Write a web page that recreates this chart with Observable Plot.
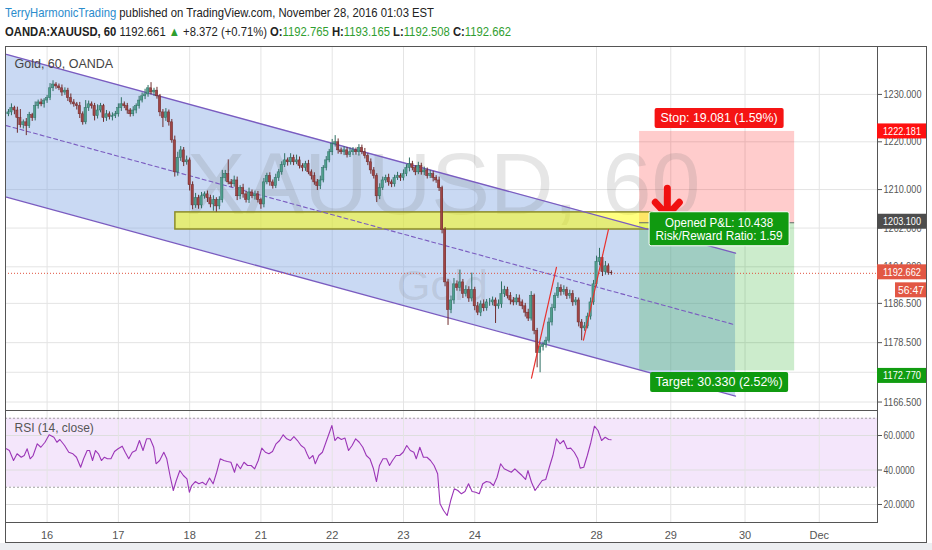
<!DOCTYPE html>
<html><head><meta charset="utf-8">
<script src="https://cdn.jsdelivr.net/npm/d3@7"></script>
<script src="https://cdn.jsdelivr.net/npm/@observablehq/plot@0.6"></script>
<style>
html,body{margin:0;padding:0;background:#fff;width:932px;height:550px;overflow:hidden;position:relative;}
svg{display:block;}
#hdr{position:relative;height:46px;font-family:"Liberation Sans",Arial,sans-serif;font-size:13px;color:#222;}
.ln{position:absolute;left:5px;white-space:nowrap;display:inline-block;transform-origin:0 0;}
#l1{top:5px;}
#l2{top:24px;}
.g{color:#2f9e2f;}
.u{color:#2b8ccc;}
#outer{position:absolute;left:5px;top:46px;width:922px;height:497px;border:1px solid #555;box-sizing:border-box;pointer-events:none;}
#foot{position:absolute;left:0;top:543px;width:932px;height:7px;background:#eceef1;}
</style>
</head><body>
<div id="hdr">
  <div class="ln" id="l1"><span class="u">TerryHarmonicTrading</span> published on TradingView.com, November 28, 2016 01:03 EST</div>
  <div class="ln" id="l2"><b>OANDA:XAUUSD, 60</b> 1192.661 <span class="g">▲</span> +8.372 (+0.71%) <b>O:</b><span class="g">1192.765</span> <b>H:</b><span class="g">1193.165</span> <b>L:</b><span class="g">1192.508</span> <b>C:</b><span class="g">1192.662</span></div>
</div>
<div id="chart"></div>
<div id="outer"></div>
<div id="foot"></div>
<script>
// ---------- data ----------
const firstOpen = 1225.8;
const closes = [
 1226.2,1227.1,1226.6,1225.0,1223.5,1224.1,1223.3,1225.6,1225.0,1227.5,
 1228.3,1227.9,1228.7,1229.2,1231.3,1232.1,1231.7,1231.3,1230.4,1230.8,
 1229.2,1228.3,1227.9,1227.5,1225.8,1224.1,1227.1,1227.9,1227.5,1225.4,
 1226.6,1227.5,1225.0,1225.8,1225.2,1225.4,1225.8,1227.1,1227.9,1227.5,
 1226.6,1225.8,1226.6,1227.5,1228.7,1229.6,1230.0,1231.3,1230.4,1230.8,
 1229.6,1226.2,1225.0,1226.2,1224.1,1220.3,1213.6,1216.6,1218.2,1215.7,
 1216.1,1210.9,1206.7,1208.2,1206.7,1208.6,1209.0,1208.2,1206.9,1207.8,
 1206.5,1207.8,1212.4,1213.2,1211.5,1211.1,1211.9,1208.6,1210.3,1209.0,
 1207.8,1209.4,1208.6,1209.0,1207.8,1206.9,1211.5,1212.8,1211.5,1210.7,
 1212.4,1213.6,1215.1,1216.1,1215.7,1216.6,1215.7,1216.1,1214.9,1214.5,
 1215.3,1213.6,1212.8,1211.5,1210.7,1211.9,1214.5,1216.1,1217.8,1219.5,
 1219.9,1218.2,1217.8,1218.2,1217.2,1217.8,1218.2,1217.8,1218.7,1217.8,
 1217.0,1215.7,1214.0,1212.8,1208.6,1210.3,1211.9,1212.4,1211.5,1211.1,
 1212.4,1212.8,1212.4,1213.2,1214.5,1215.3,1214.5,1213.6,1214.9,1213.6,
 1214.0,1212.8,1213.2,1212.4,1211.9,1210.3,1201.6,1190.8,1185.1,1187.1,
 1190.4,1189.6,1190.8,1188.4,1189.2,1187.5,1189.2,1185.9,1184.6,1186.3,
 1185.5,1186.7,1186.7,1187.1,1185.9,1186.3,1188.4,1189.2,1188.0,1187.1,
 1186.7,1187.5,1186.7,1185.9,1184.6,1183.4,1188.0,1180.9,1176.4,1177.6,
 1178.0,1178.9,1182.6,1185.5,1188.0,1189.6,1188.8,1189.2,1188.0,1188.4,
 1186.7,1187.1,1182.6,1181.4,1181.8,1183.8,1186.7,1190.4,1195.0,1195.8,
 1192.9,1194.1,1192.77,1192.66];
const wickHi = [
 0.6,0.9,0.4,0.7,1.8,0.5,0.8,0.6,0.4,0.9, 0.5,0.7,0.4,0.6,1.0,0.8,0.4,0.5,0.7,0.6,
 0.5,0.9,0.6,0.4,0.8,0.5,1.6,0.7,0.5,0.6, 1.2,0.6,0.4,0.8,0.5,0.7,0.6,0.9,1.4,0.5,
 0.6,0.4,0.8,0.5,0.9,0.7,1.1,0.6,1.2,0.5, 0.7,0.4,0.6,0.8,0.5,0.6,0.9,1.2,0.8,0.6,
 0.9,0.5,0.7,1.0,0.6,0.8,0.5,0.7,0.6,0.9, 0.5,0.7,1.6,0.8,3.0,0.6,0.9,0.7,0.5,0.8,
 0.6,0.9,0.5,0.7,0.6,0.4,0.8,0.6,0.7,0.5, 0.8,0.6,0.7,1.4,0.5,0.9,0.6,1.1,0.7,0.5,
 0.6,0.8,0.5,0.7,0.6,0.9,0.5,0.8,0.6,1.0, 1.4,0.7,0.5,0.8,0.6,0.9,0.6,0.5,0.7,0.6,
 0.8,0.5,0.7,0.6,0.5,0.9,0.7,0.6,0.8,0.5, 0.6,0.8,0.5,0.9,0.7,1.3,0.6,0.5,0.8,0.6,
 0.7,0.5,0.8,0.6,0.5,0.7,0.4,0.5,0.6,0.9, 1.2,0.7,2.5,0.6,0.9,0.7,3.5,0.6,0.8,0.7,
 0.9,0.6,0.8,0.7,0.5,0.9,2.5,0.8,0.6,0.7, 0.6,0.8,0.7,0.5,0.6,0.7,0.9,0.4,0.5,0.8,
 0.6,0.7,0.9,0.8,0.6,1.1,0.7,0.9,0.6,0.8, 0.7,0.6,0.5,0.6,0.8,0.7,0.9,0.8,1.2,2.0,
 0.6,1.0,0.5,0.4];
const wickLo = [
 0.5,0.7,0.9,3.2,0.6,0.8,2.0,0.5,0.7,0.6, 0.6,0.5,0.8,0.6,0.5,0.7,0.6,0.5,0.8,0.6,
 0.7,0.5,0.6,0.8,0.9,0.6,0.5,0.7,0.6,1.0, 0.6,0.5,0.9,0.7,0.6,0.8,0.5,0.6,0.7,0.5,
 0.8,0.6,0.5,0.7,0.6,0.5,0.7,0.6,0.5,0.8, 0.6,0.9,2.0,0.7,0.8,0.6,1.0,0.8,0.7,0.9,
 0.6,1.2,0.9,0.6,0.8,0.7,0.6,0.9,0.7,1.4, 1.2,0.7,0.6,0.8,0.5,0.7,0.6,0.9,0.7,0.8,
 0.6,0.7,0.5,0.8,0.6,1.0,0.7,0.5,0.8,0.6, 0.5,0.7,0.6,0.5,0.8,0.6,0.7,0.5,0.6,0.8,
 0.7,0.5,0.8,0.6,0.9,0.7,0.5,0.6,0.5,0.7, 0.6,0.8,0.5,0.7,0.6,0.5,0.7,0.6,0.8,0.5,
 0.6,0.7,0.8,0.6,1.3,0.7,0.5,0.6,0.8,0.7, 0.6,0.5,0.7,0.6,0.5,0.8,0.6,0.7,0.5,0.6,
 0.7,0.6,0.5,0.8,0.6,0.7,0.8,0.9,3.1,0.7, 0.8,0.6,0.7,0.9,0.6,0.8,0.7,0.9,0.6,0.8,
 0.7,0.6,0.8,0.7,3.5,0.6,0.8,0.7,0.6,0.9, 0.7,0.6,0.8,0.7,0.9,0.6,0.5,0.8,3.0,4.0,
 0.8,0.6,0.5,0.7,0.6,0.5,0.8,0.6,0.7,0.6, 0.8,0.7,0.9,2.5,0.6,0.5,0.7,0.6,0.5,0.8,
 0.9,0.6,0.5,0.4];
const rsiBar = [
 0.3,1.3,2.7,3.9,5.3,6.3,7.3,8.3,9.3,10.7, 11.9,13.3,14.7,16.3,17.3,18.3,19.9,21.3,22.7,23.9,
 25.3,26.3,27.5,28.3,29.3,30.3,31.3,32.3,33.3,34.3, 35.5,36.7,37.9,39.3,40.3,41.5,42.7,43.9,45.1,46.3,
 47.5,48.7,49.9,50.7,51.9,53.3,54.3,55.5,56.5,57.5, 58.7,59.9,61.1,61.9,62.7,63.9,65.1,66.3,67.5,68.7,
 69.9,71.1,72.3,73.5,74.7,75.9,77.1,77.9,79.1,80.3, 81.5,82.7,83.9,85.1,86.3,87.5,88.7,89.9,91.1,92.3,
 93.5,94.7,95.9,97.1,98.3,99.5,100.7,101.5,102.3,103.5, 104.3,105.5,106.7,107.9,109.1,109.9,110.9,111.9,113.1,114.3,
 115.5,116.7,117.9,119.1,120.3,121.5,122.7,123.9,124.9,125.9, 127.1,128.3,129.3,130.3,131.5,132.7,133.9,135.1,136.3,137.5,
 138.3,139.5,140.7,141.9,143.1,144.3,145.5,146.3,147.5,148.7, 149.9,151.1,152.3,153.5,154.7,155.9,157.1,158.3,159.5,160.7,
 161.9,163.1,164.3,165.5,166.7,167.9,169.1,170.3,171.5,172.7, 173.9,175.1,175.9,177.1,178.3,179.5,180.7,181.9,183.1,184.3,
 185.5,186.7,187.9,189.1,190.3,191.5,192.7,193.5,194.7,195.9, 197.1,198.3,199.5,200.7,201.9,203.1,203.9];
const rsiVal = [
 52.3,51.3,45.5,49.4,47.4,48.4,52.3,46.5,48.4,55.2, 53.2,56.1,60.4,59,56.1,57.7,54.2,50.3,49.4,47.4,
 41.6,46.5,51.3,51.3,45.5,51.3,49.4,45.5,47.4,46.5, 46.5,50.7,52.3,53.8,50.3,46.5,50.3,51.3,57.1,51.3,
 58.1,58.1,53.2,43.6,45.5,50.3,46.5,35.8,28.1,33.9, 39.7,36.8,34.9,27.1,31,33.3,32,32.9,31.4,35.3,
 32,38.7,46.5,45.5,44.9,44.5,38.7,43.6,40.7,44.5, 42.6,42.6,40.7,45.5,52.7,50.3,49.4,50.7,55.2,57.1,
 60.4,58.1,57.1,59.4,57.1,54.2,52.7,49.4,46.5,48.4, 43.6,48.4,50.3,56.1,61.9,65.8,57.1,59,57.7,58.5,
 51.3,54.2,58.1,56.1,53.2,48.4,46.5,40.7,33.3,42.6, 46.5,46.5,42.6,45.5,48.4,48.4,50.3,54.2,51.3,50.3,
 46.5,53.2,47.4,47.4,45.5,42.6,37.8,20.4,16.5,13.6, 22.3,29.1,28.1,26.2,27.5,32,27.5,27.1,26.2,32,
 33.3,32.9,31,35.8,43.6,40.7,39.7,38.7,40.7,38.7, 36.8,34.5,39.7,32.9,28.1,31,33.9,34.5,41.6,48.4,
 58.1,55.2,57.1,52.3,52.7,50.3,46.5,41.1,41.6,48.4, 56.1,65.4,62.9,57.1,59,57.7,57.5];
const dayBars = [14,38,62,86,110,134,158,199,224,249,274];
const dayLabels = ["16","17","18","21","22","23","24","28","29","30","Dec"];
const priceTicks = [1230,1220,1210,1202,1194,1186.5,1178.5,1166.5];
const priceGrid = [1230,1220,1210,1202,1194,1186.5,1178.5,1172.5,1166.5];
const rsiTicks = [60,40,20];
const rsiBands = [30,70];
const channel = [
  {bar:0.3, top:1238.5, mid:1223.4, bottom:1208.4},
  {bar:245.8, top:1196.8, mid:1182.1, bottom:1167.7}];
const zone = {bar1:57.2, bar2:218, low:1201.7, high:1205.25};
const position = {bar1:213.5, bar2:265.7, stop:1222.181, entry:1203.1, target:1172.77};
const trend1 = [{bar:177.1, p:1171.3},{bar:185.5, p:1193.9}];
const trend2 = [{bar:194.6, p:1179.0},{bar:203.0, p:1201.7}];
const lastPrice = 1192.662;
const arrowBar = 223;
const axisTags = [
  {price:1222.181, text:"1222.181", fill:"#ff1010", dy:0},
  {price:1203.1, text:"1203.100", fill:"#4d4d4d", dy:-1},
  {price:1192.662, text:"1192.662", fill:"#e25744", dy:-1},
  {price:1172.77, text:"1172.770", fill:"#119c11", dy:5}];
const timerText = "56:47";
const stopText = "Stop: 19.081 (1.59%)";
const pnlLines = ["Opened P&L: 10.438", "Risk/Reward Ratio: 1.59"];
const targetText = "Target: 30.330 (2.52%)";

// ---------- build ----------
const FONT = '"Liberation Sans", Arial, sans-serif';
const xDomain = [0, 293.6];
const labelMap = new Map(dayBars.map((b,i)=>[b, dayLabels[i]]));
const candles = closes.map((c,i)=>{
  const o = i===0 ? firstOpen : closes[i-1];
  return {bar:i+1, o, c, h:Math.max(o,c)+wickHi[i], l:Math.min(o,c)-wickLo[i], up:c>=o};
});
const rsiData = rsiBar.map((b,i)=>({bar:b, v:rsiVal[i]}));
const UP="#4f9f8e", UPW="#2f6f63", DN="#a04444", DNW="#6f2c2c";

const main = Plot.plot({
  width:932, height:364, marginLeft:5, marginRight:55, marginTop:0, marginBottom:0,
  style:{fontFamily:FONT, fontSize:"11px", color:"#555", background:"transparent", overflow:"visible"},
  x:{domain:xDomain, axis:null},
  y:{type:"log", domain:[1164.8,1240.2], axis:"right", ticks:priceTicks, tickFormat:d=>d.toFixed(3), tickSize:4, tickPadding:2, label:null},
  marks:[
    Plot.ruleY(priceGrid,{stroke:"#e4e4e4"}),
    Plot.ruleX(dayBars,{stroke:"#e4e4e4"}),
    Plot.area(channel,{x1:"bar", y1:"bottom", y2:"top", fill:"rgb(120,160,225)", fillOpacity:0.4}),
    Plot.rect([position],{x1:"bar1", x2:"bar2", y1:"entry", y2:"stop", fill:"#ff0000", fillOpacity:0.2}),
    Plot.rect([position],{x1:"bar1", x2:"bar2", y1:"target", y2:"entry", fill:"#00a000", fillOpacity:0.2}),
    Plot.text([{t:"XAUUSD, 60", bar:147.5, p:1210.7}],{x:"bar", y:"p", text:"t", fontSize:88, fill:"#777", fillOpacity:0.18, fontFamily:FONT}),
    Plot.text([{t:"Gold", bar:147.1, p:1190.0}],{x:"bar", y:"p", text:"t", fontSize:43, fill:"#777", fillOpacity:0.18, fontFamily:FONT}),
    Plot.rect([zone],{x1:"bar1", x2:"bar2", y1:"low", y2:"high", fill:"#ffff00", fillOpacity:0.5, stroke:"#8c8c2a", strokeWidth:1.5}),
    Plot.ruleY([position],{y:"entry", x1:"bar1", x2:"bar2", stroke:"#666"}),
    Plot.line(channel,{x:"bar", y:"top", stroke:"#7a5cc0", strokeWidth:1.3}),
    Plot.line(channel,{x:"bar", y:"bottom", stroke:"#7a5cc0", strokeWidth:1.3}),
    Plot.line(channel,{x:"bar", y:"mid", stroke:"#7a5cc0", strokeWidth:1.1, strokeDasharray:"4,3"}),
    Plot.ruleY([lastPrice],{stroke:"#e0533f", strokeDasharray:"1,2"}),
    Plot.ruleX(candles,{x:"bar", y1:"l", y2:"h", stroke:d=>d.up?UPW:DNW, strokeWidth:1}),
    Plot.rect(candles,{x1:d=>d.bar-0.38, x2:d=>d.bar+0.38, y1:"o", y2:"c", fill:d=>d.up?UP:DN, stroke:d=>d.up?UPW:DNW, strokeWidth:0.5, inset:0}),
    Plot.line(trend1,{x:"bar", y:"p", stroke:"#e8322e", strokeWidth:1.2}),
    Plot.line(trend2,{x:"bar", y:"p", stroke:"#e8322e", strokeWidth:1.2}),
    Plot.text(["Gold, 60, OANDA"],{frameAnchor:"top-left", dx:9, dy:13, lineAnchor:"top", fontSize:12.5, fill:"#444"}),
    Plot.frame({stroke:"#555"})
  ]
});

const rsi = Plot.plot({
  width:932, height:133, marginLeft:5, marginRight:55, marginTop:0, marginBottom:21,
  style:{fontFamily:FONT, fontSize:"11px", color:"#555", background:"transparent", overflow:"visible"},
  x:{domain:xDomain, ticks:dayBars, tickFormat:d=>labelMap.get(d), tickSize:0, tickPadding:9, label:null},
  y:{domain:[9.56,74.5], axis:"right", ticks:rsiTicks, tickFormat:d=>d.toFixed(4), tickSize:4, tickPadding:2, label:null},
  marks:[
    Plot.rect([{lo:rsiBands[0], hi:rsiBands[1]}],{x1:()=>xDomain[0], x2:()=>xDomain[1], y1:"lo", y2:"hi", fill:"#f4e6fb"}),
    Plot.ruleY(rsiTicks,{stroke:"#dedede"}),
    Plot.ruleX(dayBars,{stroke:"#e4e4e4"}),
    Plot.ruleY(rsiBands,{stroke:"#a0a0a0", strokeDasharray:"2,2"}),
    Plot.line(rsiData,{x:"bar", y:"v", stroke:"#9b36b7", strokeWidth:1.1}),
    Plot.text(["RSI (14, close)"],{frameAnchor:"top-left", dx:9, dy:13, lineAnchor:"top", fontSize:12, fill:"#555"}),
    Plot.frame({stroke:"#555"})
  ]
});

const chart = document.getElementById("chart");
chart.appendChild(main);
chart.appendChild(rsi);

// narrow TradingView-like axis digits
d3.select(main).selectAll("text").each(function(){
  if (/^\d{4}\.\d{3}$/.test(this.textContent)) { this.setAttribute("textLength",38); this.setAttribute("lengthAdjust","spacingAndGlyphs"); }
});
d3.select(rsi).selectAll("text").each(function(){
  if (/^\d{2}\.\d{4}$/.test(this.textContent)) { this.setAttribute("textLength",31); this.setAttribute("lengthAdjust","spacingAndGlyphs"); }
});

// overlays placed through Plot's own scales
function fn(s){ if (s.apply) return v=>s.apply(v); const sc=(s.type==="log"?d3.scaleLog():d3.scaleLinear()).domain(s.domain).range(s.range); return sc; }
const X = fn(main.scale("x")), Y = fn(main.scale("y"));
const g = d3.select(main).append("g").attr("font-family", FONT).attr("text-anchor","start");
const right = X(xDomain[1]);
function fitText(sel, w){ sel.attr("textLength", w).attr("lengthAdjust","spacingAndGlyphs"); }
axisTags.forEach(t=>{
  const yc = Y(t.price)+t.dy;
  g.append("rect").attr("x",right).attr("y",yc-7.5).attr("width",49).attr("height",15).attr("fill",t.fill);
  fitText(g.append("text").attr("x",right+6).attr("y",yc+4).attr("text-anchor","start").attr("fill","#fff").attr("font-size",11.5).text(t.text), 38);
});
{
  const yc = Y(lastPrice)+17;
  g.append("rect").attr("x",right+18).attr("y",yc-7.5).attr("width",31).attr("height",15).attr("fill","#e25744");
  fitText(g.append("text").attr("x",right+21).attr("y",yc+4).attr("text-anchor","start").attr("fill","#fff").attr("font-size",11.5).text(timerText), 26);
}
const cx = (X(position.bar1)+X(position.bar2))/2 + 2.5;
// stop label
{
  const yb = Y(position.stop);
  g.append("rect").attr("x",cx-64.5).attr("y",yb-23).attr("width",129).attr("height",20).attr("rx",2).attr("fill","#f51414");
  fitText(g.append("text").attr("x",cx).attr("y",yb-8.5).attr("text-anchor","middle").attr("fill","#fff").attr("font-size",13).text(stopText), 117);
}
// arrow marker
{
  const ax = X(arrowBar), ay = Y(position.entry);
  g.append("path").attr("d",`M${ax},${ay-34}V${ay-8}M${ax-12},${ay-20}L${ax},${ay-7}L${ax+12},${ay-20}`)
    .attr("fill","none").attr("stroke","#f01010").attr("stroke-width",7).attr("stroke-linecap","round").attr("stroke-linejoin","round");
}
// P&L label
{
  const ye = Y(position.entry);
  g.append("rect").attr("x",cx-70).attr("y",ye-10.5).attr("width",140).attr("height",34).attr("rx",2).attr("fill","#109a10").attr("stroke","#fff").attr("stroke-width",1);
  fitText(g.append("text").attr("x",cx).attr("y",ye+4.5).attr("text-anchor","middle").attr("fill","#fff").attr("font-size",13).text(pnlLines[0]), 108);
  fitText(g.append("text").attr("x",cx).attr("y",ye+18).attr("text-anchor","middle").attr("fill","#fff").attr("font-size",13).text(pnlLines[1]), 127);
}
// target label
{
  const yt = Y(position.target);
  g.append("rect").attr("x",cx-69).attr("y",yt+1.5).attr("width",138).attr("height",20).attr("rx",2).attr("fill","#109a10");
  fitText(g.append("text").attr("x",cx).attr("y",yt+16).attr("text-anchor","middle").attr("fill","#fff").attr("font-size",13).text(targetText), 127);
}

// header widths to match the narrow TradingView font
[["l1",429],["l2",506]].forEach(([id,w])=>{
  const el=document.getElementById(id);
  const r=w/el.getBoundingClientRect().width;
  el.style.transform=`scaleX(${r})`;
});
</script>
</body></html>
